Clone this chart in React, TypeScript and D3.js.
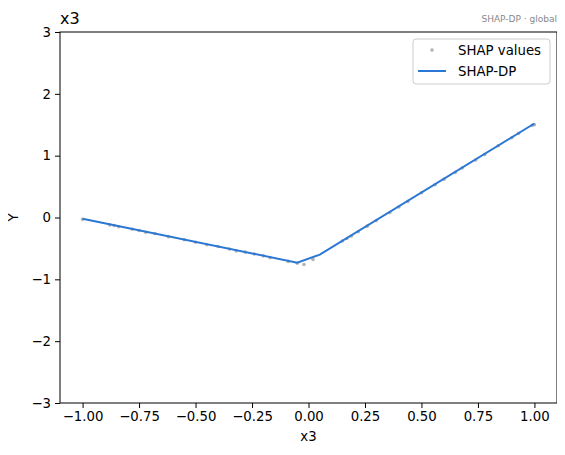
import { useEffect, useRef } from 'react';
import * as d3 from 'd3';

// SHAP values (scatter)
const shapX = [-1.0, -0.88, -0.86, -0.84, -0.78, -0.75, -0.72, -0.68, -0.62, -0.55, -0.5, -0.45, -0.4, -0.35, -0.32, -0.28, -0.24, -0.2, -0.17, -0.09, -0.05, -0.02, 0.02,
  0.15, 0.17, 0.19, 0.22, 0.26, 0.3, 0.36, 0.4, 0.44, 0.5, 0.56, 0.6, 0.65, 0.68, 0.74, 0.78, 0.84, 0.9, 0.93, 0.99, 1.0];
const shapY = [-0.03, -0.12, -0.13, -0.15, -0.19, -0.21, -0.24, -0.26, -0.31, -0.36, -0.4, -0.44, -0.47, -0.51, -0.54, -0.56, -0.59, -0.62, -0.65, -0.71, -0.74, -0.76, -0.68,
  -0.38, -0.34, -0.3, -0.23, -0.14, -0.05, 0.08, 0.17, 0.26, 0.4, 0.53, 0.62, 0.73, 0.8, 0.93, 1.02, 1.16, 1.29, 1.36, 1.49, 1.5];

// SHAP-DP curve
const dpX = [-1.0, -0.05, 0.05, 1.0];
const dpY = [-0.02, -0.73, -0.6, 1.52];

const xTicks = [-1.0, -0.75, -0.5, -0.25, 0.0, 0.25, 0.5, 0.75, 1.0];
const yTicks = [-3, -2, -1, 0, 1, 2, 3];

const BLUE = '#2b78d4';
const FONT = 'DejaVu Sans, sans-serif';

export default function App() {
  const svgRef = useRef<SVGSVGElement>(null);

  useEffect(() => {
    const svg = d3.select(svgRef.current);
    svg.selectAll('*').remove();

    const W = 565, H = 455;
    const left = 60, right = 557, top = 32, bottom = 403;

    svg.attr('width', W).attr('height', H);
    svg.append('rect').attr('width', W).attr('height', H).attr('fill', '#fff');

    const x = d3.scaleLinear().domain([-1.1, 1.1]).range([left, right]);
    const y = d3.scaleLinear().domain([-3, 3]).range([bottom, top]);

    const fmtMinus = (s: string) => s.replace('-', '\u2212');

    // x axis
    const xAxis = svg.append('g').attr('transform', `translate(0,${bottom})`)
      .call(d3.axisBottom(x).tickValues(xTicks).tickSize(5).tickPadding(4).tickFormat(d => fmtMinus(d3.format('.2f')(d as number))));
    xAxis.select('.domain').remove();
    xAxis.selectAll('line').attr('stroke', '#000').attr('stroke-width', 1);
    xAxis.selectAll('text').attr('font-size', 13.3).attr('font-family', FONT).attr('fill', '#000');

    // y axis
    const yAxis = svg.append('g').attr('transform', `translate(${left},0)`)
      .call(d3.axisLeft(y).tickValues(yTicks).tickSize(5).tickPadding(4).tickFormat(d => fmtMinus(String(d))));
    yAxis.select('.domain').remove();
    yAxis.selectAll('line').attr('stroke', '#000').attr('stroke-width', 1);
    yAxis.selectAll('text').attr('font-size', 13.3).attr('font-family', FONT).attr('fill', '#000');

    // scatter
    svg.append('g').selectAll('circle')
      .data(shapX.map((v, i) => [v, shapY[i]]))
      .join('circle')
      .attr('cx', d => x(d[0])).attr('cy', d => y(d[1]))
      .attr('r', 1.8).attr('fill', '#999').attr('opacity', 0.75);

    // SHAP-DP line
    const line = d3.line<number>().x(d => x(d)).y((_, i) => y(dpY[i]));
    svg.append('path').datum(dpX).attr('d', line)
      .attr('fill', 'none').attr('stroke', BLUE).attr('stroke-width', 2);

    // frame
    svg.append('rect').attr('x', left).attr('y', top)
      .attr('width', right - left).attr('height', bottom - top)
      .attr('fill', 'none').attr('stroke', '#000').attr('stroke-width', 1);

    // titles
    svg.append('text').attr('x', left).attr('y', 24)
      .attr('font-size', 16).attr('font-family', FONT).text('x3');
    svg.append('text').attr('x', right).attr('y', 22).attr('text-anchor', 'end')
      .attr('font-size', 9).attr('font-family', FONT).attr('fill', '#888').text('SHAP-DP · global');
    svg.append('text').attr('x', (left + right) / 2).attr('y', 441).attr('text-anchor', 'middle')
      .attr('font-size', 13.3).attr('font-family', FONT).text('x3');
    svg.append('text').attr('transform', `translate(18,${(top + bottom) / 2}) rotate(-90)`)
      .attr('text-anchor', 'middle')
      .attr('font-size', 13.3).attr('font-family', FONT).text('Y');

    // legend
    const lg = svg.append('g');
    lg.append('rect').attr('x', 413).attr('y', 39).attr('width', 137).attr('height', 45).attr('rx', 3)
      .attr('fill', '#fff').attr('fill-opacity', 0.8).attr('stroke', '#ccc');
    lg.append('circle').attr('cx', 432).attr('cy', 50).attr('r', 1.8).attr('fill', '#999').attr('opacity', 0.75);
    lg.append('text').attr('x', 458).attr('y', 55).attr('font-size', 13.3).attr('font-family', FONT).text('SHAP values');
    lg.append('line').attr('x1', 418).attr('x2', 446).attr('y1', 71).attr('y2', 71)
      .attr('stroke', BLUE).attr('stroke-width', 2);
    lg.append('text').attr('x', 458).attr('y', 76).attr('font-size', 13.3).attr('font-family', FONT).text('SHAP-DP');
  }, []);

  return <svg ref={svgRef} style={{ display: 'block', margin: -8 }} />;
}
